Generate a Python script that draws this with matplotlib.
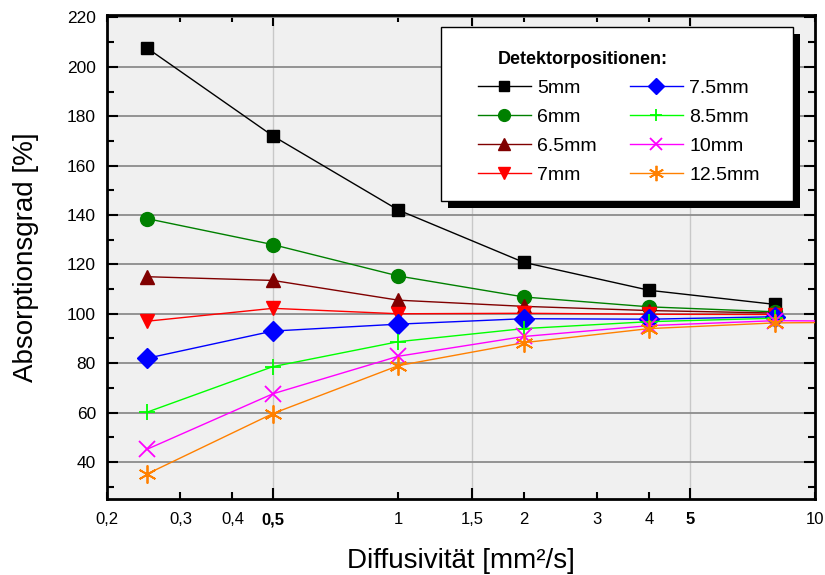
import matplotlib
matplotlib.use("Agg")
import matplotlib.pyplot as plt
from matplotlib.ticker import FixedLocator, NullFormatter
from matplotlib.patches import Rectangle

plt.rcParams['font.family'] = ['Liberation Sans', 'DejaVu Sans']

# Messwerte
diff = [0.25, 0.5, 1, 2, 4, 8]
d_ext = [0.25, 0.5, 1, 2, 4, 8, 16]   # letzter Punkt liegt ausserhalb (x > 10)

a_5 = [207.5, 172, 142, 120.8, 109.5, 103.8]
a_6 = [138.5, 128, 115.3, 106.8, 102.8, 100.8]
a_65 = [115, 113.5, 105.5, 103, 101.3, 100.3]
a_7 = [97, 102.2, 100, 100.2, 99.8, 99.7]
a_75 = [82, 93, 95.8, 98, 97.8, 98.8]
a_85 = [60.2, 78.6, 88.7, 94, 96.8, 98.2]
a_10 = [45.2, 67.6, 82.8, 90.8, 95.2, 97.2, 96.9]
a_125 = [35.2, 59.6, 79, 88.3, 94, 96.3, 96.7]

labels = ["5mm", "6mm", "6.5mm", "7mm", "7.5mm", "8.5mm", "10mm", "12.5mm"]
colors = ["black", "#008000", "#800000", "#ff0000", "#0000ff", "#00ff00", "#ff00ff", "#ff8000"]
markers = ["s", "o", "^", "v", "D", "+", "x", (6, 2, 0)]
sizes = [9, 10, 10, 10, 10, 11, 11, 13]

xticks = [0.2, 0.3, 0.4, 0.5, 1, 1.5, 2, 3, 4, 5, 10]
xlabels = ["0,2", "0,3", "0,4", "0,5", "1", "1,5", "2", "3", "4", "5", "10"]

fig = plt.figure(figsize=(8.25, 5.75), dpi=100)
ax = fig.add_axes([0.1297, 0.1322, 0.8585, 0.8418])
ax.set_facecolor("#f0f0f0")

series = [a_5, a_6, a_65, a_7, a_75, a_85, a_10, a_125]
handles = []
for vals, lab, c, m, s in zip(series, labels, colors, markers, sizes):
    xs = d_ext if len(vals) == 7 else diff
    mew = 1.3 if m in ("+", "x") or isinstance(m, tuple) else 1
    ln, = ax.plot(xs, vals, color=c, lw=1, marker=m, ms=s, mew=mew,
                  markevery=list(range(6)), label=lab, zorder=3)
    handles.append(ln)

ax.set_xscale("log")
ax.set_xlim(0.2, 10)
ax.set_ylim(25, 221)

ax.xaxis.set_major_locator(FixedLocator([0.5, 1.5, 5]))
ax.xaxis.set_minor_locator(FixedLocator([0.2, 0.3, 0.4, 1, 2, 3, 4, 10]))
ax.xaxis.set_major_formatter(NullFormatter())
ax.xaxis.set_minor_formatter(NullFormatter())
for xv, xl in zip(xticks, xlabels):
    bold = xl in ("0,5", "5")
    ax.text(xv, -0.027, xl, transform=ax.get_xaxis_transform(), ha="center", va="top",
            fontsize=12, fontweight="bold" if bold else "normal")

ax.yaxis.set_major_locator(FixedLocator(range(40, 221, 20)))
ax.yaxis.set_minor_locator(FixedLocator(range(30, 221, 20)))
ax.tick_params(axis="y", which="major", labelsize=12.5, pad=8)

ax.tick_params(which="major", direction="in", length=8, width=1.5, top=True, right=True)
ax.tick_params(which="minor", direction="in", length=5, width=1.5, top=True, right=True)

ax.grid(True, axis="y", which="major", color="#8c8c8c", lw=1.3, zorder=1)
ax.grid(True, axis="x", which="major", color="#c8c8c8", lw=1, zorder=1)
ax.set_axisbelow(True)
for sp in ax.spines.values():
    sp.set_linewidth(2)

ax.set_xlabel("Diffusivität [mm²/s]", fontsize=20, labelpad=32)
ax.set_ylabel("Absorptionsgrad [%]", fontsize=20, labelpad=20)

# Legendenkasten mit Schatten
bx0, by0, bw, bh = 0.472, 0.616, 0.496, 0.359
dx = 7 / ax.bbox.width
dy = 7 / ax.bbox.height
ax.add_patch(Rectangle((bx0 + dx, by0 - dy), bw, bh, transform=ax.transAxes,
                       facecolor="black", edgecolor="none", zorder=5, clip_on=False))
ax.add_patch(Rectangle((bx0, by0), bw, bh, transform=ax.transAxes,
                       facecolor="white", edgecolor="black", lw=1, zorder=5.2, clip_on=False))

leg = ax.legend(handles=handles, ncol=2, loc="center",
                bbox_to_anchor=(bx0 + bw / 2 + 0.003, by0 + bh / 2 - 0.007), title="Detektorpositionen:",
                fontsize=14, title_fontproperties={"weight": "bold", "size": 13},
                frameon=False, handlelength=2.7, columnspacing=1.7, labelspacing=0.58,
                handletextpad=0.35, numpoints=1, markerscale=0.85)
leg.set_zorder(6)
leg._legend_box.align = "left"
leg.get_title().set_position((20, 0))

fig.savefig("out.png", dpi=100)
